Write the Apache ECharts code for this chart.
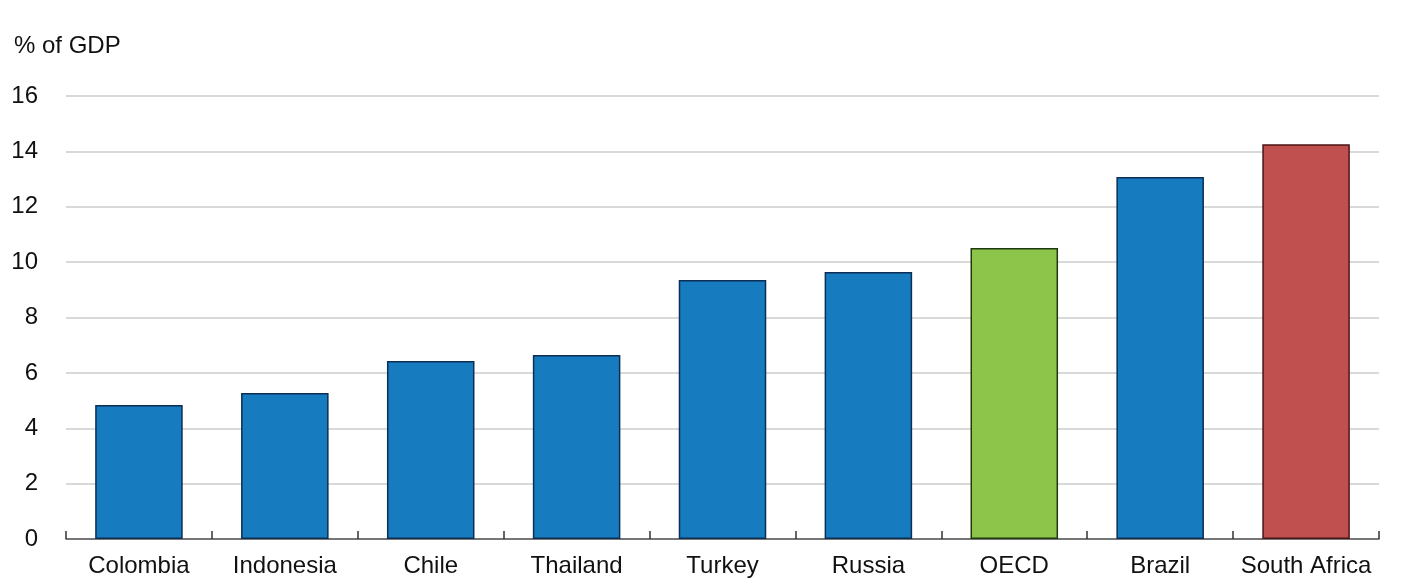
<!DOCTYPE html>
<html>
<head>
<meta charset="utf-8">
<script src="https://cdn.jsdelivr.net/npm/echarts@6/dist/echarts.min.js"></script>
<style>
  html, body { margin: 0; padding: 0; background: #fff; }
  #chart { width: 1402px; height: 588px; }
</style>
</head>
<body>
<div id="chart"></div>
<script>
const categories = ['Colombia', 'Indonesia', 'Chile', 'Thailand', 'Turkey', 'Russia', 'OECD', 'Brazil', 'South Africa'];
const values = [4.84, 5.27, 6.43, 6.65, 9.35, 9.64, 10.51, 13.07, 14.26];
const fills = ['#177bbf', '#177bbf', '#177bbf', '#177bbf', '#177bbf', '#177bbf', '#8dc54b', '#177bbf', '#c05050'];
const borders = ['#0b2f55', '#0b2f55', '#0b2f55', '#0b2f55', '#0b2f55', '#0b2f55', '#1f3a10', '#0b2f55', '#4a1515'];

const font = 'Liberation Sans, Arial, sans-serif';

const chart = echarts.init(document.getElementById('chart'));

chart.setOption({
    animation: false,
    textStyle: { fontFamily: font },
    graphic: [{
        type: 'text',
        left: 14,
        top: 34,
        style: { text: '% of GDP', font: '24px ' + font, fill: '#111' }
    }],
    grid: { left: 66, right: 23, top: 96, bottom: 49, containLabel: false },
    xAxis: {
        type: 'category',
        data: categories,
        axisLine: { lineStyle: { color: '#555', width: 1.5 } },
        axisTick: { show: true, inside: true, length: 8, lineStyle: { color: '#333', width: 1.5 } },
        axisLabel: { color: '#111', fontSize: 24, margin: 15, interval: 0 }
    },
    yAxis: {
        type: 'value',
        min: 0,
        max: 16,
        interval: 2,
        axisLine: { show: false },
        axisTick: { show: false },
        axisLabel: { color: '#111', fontSize: 24, margin: 28 },
        splitLine: { lineStyle: { color: '#d9d9d9', width: 2 } }
    },
    series: [{
        type: 'bar',
        barWidth: '60%',
        data: values.map((v, i) => ({
            value: v,
            itemStyle: { color: fills[i], borderColor: borders[i], borderWidth: 1.5 }
        }))
    }]
});
</script>
</body>
</html>
